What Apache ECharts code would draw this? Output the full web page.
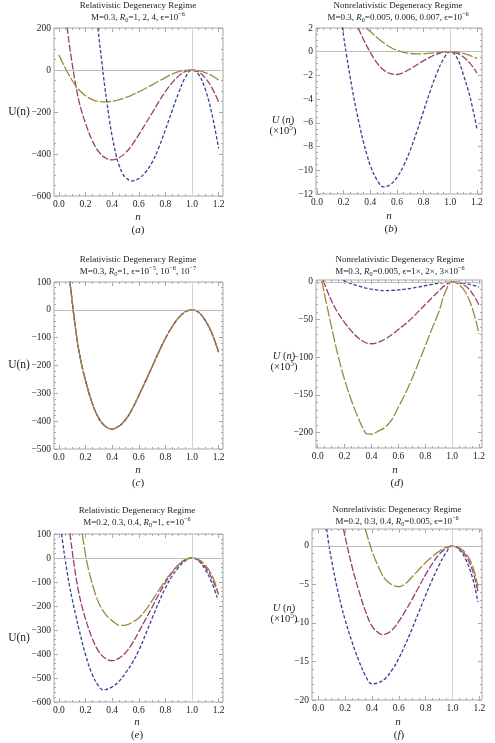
<!DOCTYPE html>
<html>
<head>
<meta charset="utf-8">
<script src="https://cdn.jsdelivr.net/npm/echarts@6/dist/echarts.min.js"></script>
<style>
  html, body { margin: 0; padding: 0; background: #fff; }
  #main { width: 495px; height: 743px; }
</style>
</head>
<body>
<div id="main"></div>
<script>
// ---- data: [n, U(n)] ----
// shared relativistic curve (a magenta, c all three, e magenta)
const relBase = [[0.05, 290], [0.06, 215], [0.07, 162], [0.08, 114], [0.09, 70], [0.1, 29], [0.11, -12], [0.12, -50],
  [0.13, -86], [0.14, -118], [0.15, -147], [0.17, -195], [0.2, -254], [0.25, -335], [0.3, -390], [0.35, -419],
  [0.4, -428], [0.45, -418], [0.5, -395], [0.55, -357], [0.6, -308], [0.65, -257], [0.7, -205], [0.75, -152],
  [0.8, -103], [0.85, -61], [0.9, -28], [0.95, -7], [1.0, 0], [1.05, -9], [1.1, -38], [1.15, -85], [1.2, -152]];
const aBlue = [[0.28, 278], [0.3, 160], [0.32, 50], [0.345, -82], [0.36, -150], [0.38, -240], [0.4, -315], [0.43, -405],
  [0.45, -450], [0.48, -495], [0.5, -512], [0.55, -528], [0.6, -517], [0.65, -487], [0.7, -440], [0.75, -370],
  [0.8, -285], [0.85, -195], [0.9, -108], [0.95, -35], [1.0, 0], [1.05, -22], [1.1, -92], [1.15, -210], [1.2, -373]];
const aYellow = [[0.0, 72], [0.025, 38], [0.05, 6], [0.075, -23], [0.1, -50], [0.125, -74], [0.15, -94], [0.2, -123],
  [0.25, -141], [0.3, -150], [0.35, -152], [0.4, -149], [0.45, -142], [0.5, -132], [0.55, -119], [0.6, -104],
  [0.65, -88], [0.7, -71], [0.75, -53], [0.8, -36], [0.85, -20], [0.9, -8], [0.95, -2], [1.0, 0], [1.05, -3],
  [1.1, -12], [1.15, -27], [1.2, -48]];
const bBlue = [[0.19, 2.1], [0.2, 1.3], [0.22, -0.2], [0.25, -2.2], [0.275, -3.8], [0.3, -5.2], [0.325, -6.5],
  [0.35, -7.7], [0.375, -8.7], [0.4, -9.6], [0.45, -10.8], [0.5, -11.4], [0.55, -11.2], [0.6, -10.6], [0.65, -9.6],
  [0.7, -8.3], [0.75, -6.7], [0.8, -5.0], [0.85, -3.3], [0.9, -1.8], [0.95, -0.6], [1.0, 0], [1.05, -0.5],
  [1.1, -2.0], [1.15, -3.9], [1.2, -6.5]];
const bMagenta = [[0.31, 2.0], [0.33, 1.48], [0.35, 1.0], [0.375, 0.45], [0.4, -0.05], [0.45, -0.95], [0.5, -1.55],
  [0.55, -1.85], [0.6, -1.92], [0.65, -1.75], [0.7, -1.45], [0.75, -1.1], [0.8, -0.75], [0.85, -0.45], [0.9, -0.2],
  [0.95, -0.05], [1.0, 0], [1.05, -0.12], [1.1, -0.45], [1.15, -1.0], [1.2, -1.8]];
const bYellow = [[0.37, 2.0], [0.4, 1.7], [0.45, 1.2], [0.5, 0.75], [0.55, 0.38], [0.6, 0.12], [0.65, -0.05],
  [0.7, -0.15], [0.75, -0.19], [0.8, -0.17], [0.85, -0.12], [0.9, -0.06], [0.95, -0.015], [1.0, 0], [1.05, -0.04],
  [1.1, -0.15], [1.15, -0.33], [1.2, -0.56]];
const dMagenta = [[0.04, 2], [0.06, -7], [0.08, -16], [0.1, -24], [0.125, -33], [0.15, -41], [0.2, -54], [0.25, -65],
  [0.3, -74], [0.35, -80], [0.4, -82], [0.45, -80], [0.5, -76], [0.55, -70], [0.6, -63], [0.65, -56], [0.7, -48],
  [0.75, -39], [0.8, -30], [0.85, -21], [0.9, -12], [0.95, -4], [1.0, 0], [1.05, -1.3], [1.1, -5.5], [1.15, -15],
  [1.2, -31]];
const dYellow = [[0.03, 2], [0.05, -16], [0.075, -37], [0.1, -58], [0.125, -78], [0.15, -97], [0.175, -114],
  [0.2, -130], [0.25, -157], [0.3, -180], [0.35, -199], [0.37, -202], [0.4, -202], [0.45, -198], [0.5, -193],
  [0.55, -183], [0.6, -166], [0.65, -149], [0.7, -129], [0.75, -107], [0.8, -85], [0.85, -62], [0.9, -40],
  [0.95, -13], [1.0, 0], [1.05, -3.5], [1.1, -14], [1.15, -35], [1.2, -69]];
const eBlue = [[0.02, 100], [0.03, 58], [0.045, 0], [0.06, -53], [0.08, -118], [0.1, -172], [0.125, -235],
  [0.15, -295], [0.2, -403], [0.25, -485], [0.3, -535], [0.33, -549], [0.35, -548], [0.4, -537], [0.45, -515],
  [0.5, -480], [0.55, -438], [0.6, -385], [0.65, -320], [0.7, -252], [0.75, -185], [0.8, -125], [0.85, -76],
  [0.9, -38], [0.95, -11], [1.0, 0], [1.05, -12], [1.1, -48], [1.15, -105], [1.19, -165]];
const eYellow = [[0.175, 100], [0.19, 48], [0.2075, -10], [0.23, -65], [0.2575, -121], [0.28, -160], [0.3075, -197],
  [0.35, -235], [0.3825, -253], [0.42, -270], [0.46, -281], [0.5, -280], [0.55, -268], [0.6, -250], [0.65, -218],
  [0.7, -178], [0.75, -135], [0.8, -93], [0.85, -57], [0.9, -27], [0.95, -7], [1.0, 0], [1.05, -7], [1.1, -30],
  [1.15, -72], [1.19, -133]];
const fBlue = [[0.0625, 2.2], [0.08, 0], [0.1, -1.95], [0.125, -4.2], [0.15, -6.2], [0.175, -8.0], [0.2, -9.6],
  [0.25, -12.4], [0.3, -14.8], [0.35, -16.8], [0.4, -17.9], [0.45, -17.75], [0.5, -17.2], [0.55, -16.1],
  [0.6, -14.6], [0.65, -12.75], [0.7, -10.7], [0.75, -8.55], [0.8, -6.4], [0.85, -4.35], [0.9, -2.5], [0.95, -0.95],
  [1.0, 0], [1.05, -0.45], [1.1, -1.8], [1.15, -4.2], [1.19, -7.3]];
const fMagenta = [[0.1875, 2.2], [0.215, 0], [0.25, -2.6], [0.275, -4.2], [0.3, -5.7], [0.35, -8.4], [0.4, -10.4],
  [0.45, -11.3], [0.475, -11.5], [0.5, -11.45], [0.55, -10.9], [0.6, -9.8], [0.65, -8.4], [0.7, -6.9], [0.75, -5.3],
  [0.8, -3.7], [0.85, -2.3], [0.9, -1.1], [0.95, -0.35], [1.0, 0], [1.05, -0.35], [1.1, -1.3], [1.15, -3.2],
  [1.19, -6.0]];
const fYellow = [[0.35, 2.2], [0.37, 1.0], [0.39, -0.1], [0.41, -1.1], [0.43, -2.0], [0.45, -2.8], [0.475, -3.7],
  [0.5, -4.35], [0.55, -5.05], [0.6, -5.3], [0.65, -4.9], [0.7, -4.0], [0.75, -3.05], [0.8, -2.15], [0.85, -1.35],
  [0.9, -0.7], [0.95, -0.2], [1.0, 0], [1.05, -0.25], [1.1, -1.0], [1.15, -2.6], [1.19, -5.3]];

// tick labels
const xTicks = [0, 0.2, 0.4, 0.6, 0.8, 1.0, 1.2];
const yTicksA = [200, 0, -200, -400, -600];
const yTicksB = [2, 0, -2, -4, -6, -8, -10, -12];
const yTicksC = [100, 0, -100, -200, -300, -400, -500];
const yTicksD = [0, -50, -100, -150, -200];
const yTicksE = [100, 0, -100, -200, -300, -400, -500, -600];
const yTicksF = [0, -5, -10, -15, -20];

const titleRel = 'Relativistic Degeneracy Regime';
const titleNonrel = 'Nonrelativistic Degeneracy Regime';

// ---- styles / layout ----
const FONT = "'Liberation Serif', 'DejaVu Serif', serif";
const FRAME = '#a8a8a8';
const lineStyles = {
  blue: { color: '#3d3d99', type: [3.5, 2] },
  magenta: { color: '#993d71', type: [7, 2] },
  yellow: { color: '#998b3d', type: [11, 2] }
};

function steps(a, b, s) {
  const out = [];
  for (let v = a; v <= b + 1e-9; v += s) out.push(+v.toFixed(4));
  return out;
}

const panels = [
  { box: [54, 28, 169, 168], x: [-0.037, 1.233], y: [-600, 200], yTicks: yTicksA, yMinor: [-600, 200, 50],
    curves: [['blue', aBlue], ['magenta', relBase], ['yellow', aYellow]],
    title: [titleRel, 'M=0.3, {i|R}{sub|0}=1, 2, 4, ϵ=10{sup|−6}'], tx: 138, ty: 6,
    rel: true, ylab: [19, 112], nlab: [138, 217], letter: 'a', llab: [138, 230] },
  { box: [316, 28, 166, 166], x: [-0.0075, 1.238], y: [-12, 2], yTicks: yTicksB, yMinor: [-12, 2, 0.5],
    curves: [['blue', bBlue], ['magenta', bMagenta], ['yellow', bYellow]],
    title: [titleNonrel, 'M=0.3, {i|R}{sub|0}=0.005, 0.006, 0.007, ϵ=10{sup|−6}'], tx: 398, ty: 6,
    rel: false, ylab: [283, 120], nlab: [389, 216], letter: 'b', llab: [391, 229] },
  { box: [54, 282, 169, 167], x: [-0.037, 1.233], y: [-500, 100], yTicks: yTicksC, yMinor: [-500, 100, 20],
    curves: [['blue', relBase], ['magenta', relBase], ['yellow', relBase]],
    title: [titleRel, 'M=0.3, {i|R}{sub|0}=1, ϵ=10{sup|−5}, 10{sup|−6}, 10{sup|−7}'], tx: 138, ty: 260,
    rel: true, ylab: [19, 365], nlab: [138, 470], letter: 'c', llab: [138, 483] },
  { box: [316, 280, 166, 168], x: [-0.013, 1.222], y: [-220.4, 2.6], yTicks: yTicksD, yMinor: [-220, 0, 10],
    curves: [['blue', bBlue], ['magenta', dMagenta], ['yellow', dYellow]],
    title: [titleNonrel, 'M=0.3, {i|R}{sub|0}=0.005, ϵ=1×, 2×, 3×10{sup|−6}'], tx: 400, ty: 260,
    rel: false, ylab: [284, 356], nlab: [395, 470], letter: 'd', llab: [397, 483] },
  { box: [54, 534, 169, 168], x: [-0.037, 1.233], y: [-600, 100], yTicks: yTicksE, yMinor: [-600, 100, 20],
    curves: [['blue', eBlue], ['magenta', relBase], ['yellow', eYellow]],
    title: [titleRel, 'M=0.2, 0.3, 0.4, {i|R}{sub|0}=1, ϵ=10{sup|−6}'], tx: 137, ty: 511,
    rel: true, ylab: [19, 638], nlab: [137, 722], letter: 'e', llab: [137, 735] },
  { box: [312, 529, 170, 171], x: [-0.047, 1.22], y: [-20, 2.2], yTicks: yTicksF, yMinor: [-20, 2, 1],
    curves: [['blue', fBlue], ['magenta', fMagenta], ['yellow', fYellow]],
    title: [titleNonrel, 'M=0.2, 0.3, 0.4, {i|R}{sub|0}=0.005, ϵ=10{sup|−6}'], tx: 397, ty: 510,
    rel: false, ylab: [284, 608], nlab: [398, 722], letter: 'f', llab: [399, 735] }
];

const richBase = (size) => ({
  i: { fontStyle: 'italic', fontFamily: FONT, fontSize: size, fill: '#222', color: '#222' },
  sub: { fontFamily: FONT, fontSize: size * 0.7, verticalAlign: 'bottom', lineHeight: 8, fill: '#222', color: '#222' },
  sup: { fontFamily: FONT, fontSize: size * 0.7, verticalAlign: 'top', lineHeight: 8, fill: '#222', color: '#222' }
});

function text(x, y, str, size, extra) {
  return {
    type: 'text', x: x, y: y, silent: true,
    style: Object.assign({
      text: str, fontFamily: FONT, fontSize: size, fill: '#222',
      align: 'center', verticalAlign: 'middle', lineHeight: 12, rich: richBase(size)
    }, extra || {})
  };
}

function fmtY(v) {
  return v < 0 ? '\u2212' + String(-v) : String(v);
}

function makeAxis(dim, gridIndex, position, range, ticks, len, labels) {
  const ax = {
    type: 'value', gridIndex: gridIndex, position: position,
    min: range[0], max: range[1],
    axisLine: { show: false, onZero: false },
    axisTick: { show: true, inside: true, length: len, customValues: ticks, lineStyle: { color: FRAME, width: 1 } },
    axisLabel: { show: false },
    splitLine: { show: false }
  };
  if (labels) {
    ax.axisLabel = {
      show: true, customValues: ticks, margin: 3,
      fontFamily: FONT, fontSize: 9.5, color: '#222',
      formatter: dim === 'x' ? (v) => v.toFixed(1) : fmtY
    };
  }
  return ax;
}

const grids = [], xAxes = [], yAxes = [], series = [], graphics = [];
const xMinor = steps(0, 1.2, 0.05);

panels.forEach((p, k) => {
  grids.push({
    left: p.box[0], top: p.box[1], width: p.box[2], height: p.box[3],
    show: true, borderColor: FRAME, borderWidth: 1, backgroundColor: 'transparent'
  });
  const yMinor = steps(p.yMinor[0], p.yMinor[1], p.yMinor[2]);
  const xi = xAxes.length, yi = yAxes.length;
  xAxes.push(makeAxis('x', k, 'bottom', p.x, xTicks, 4, true));
  xAxes.push(makeAxis('x', k, 'bottom', p.x, xMinor, 2, false));
  xAxes.push(makeAxis('x', k, 'top', p.x, xTicks, 4, false));
  xAxes.push(makeAxis('x', k, 'top', p.x, xMinor, 2, false));
  yAxes.push(makeAxis('y', k, 'left', p.y, p.yTicks, 4, true));
  yAxes.push(makeAxis('y', k, 'left', p.y, yMinor, 2, false));
  yAxes.push(makeAxis('y', k, 'right', p.y, p.yTicks, 4, false));
  yAxes.push(makeAxis('y', k, 'right', p.y, yMinor, 2, false));

  p.curves.forEach(([key, data], j) => {
    const s = {
      type: 'line', xAxisIndex: xi, yAxisIndex: yi, data: data,
      showSymbol: false, smooth: 0.4, clip: true, z: 3 + j,
      lineStyle: { color: lineStyles[key].color, type: lineStyles[key].type, width: 1.3 },
      emphasis: { disabled: true }
    };
    if (j === 0) {
      // zero line and n = 1 guide
      s.markLine = {
        silent: true, symbol: 'none', animation: false, label: { show: false },
        lineStyle: { width: 1, type: 'solid' },
        data: [
          { yAxis: 0, lineStyle: { color: '#bdbdbd' } },
          { xAxis: 1, lineStyle: { color: '#d4d4d4' } }
        ]
      };
    }
    series.push(s);
  });

  // titles and axis labels
  graphics.push(text(p.tx, p.ty, p.title[0], 9));
  graphics.push(text(p.tx, p.ty + 11.5, p.title[1], 9));
  if (p.rel) {
    graphics.push(text(p.ylab[0], p.ylab[1], 'U(n)', 11.5));
  } else {
    graphics.push(text(p.ylab[0], p.ylab[1], '{i|U} ({i|n})', 10.5));
    graphics.push(text(p.ylab[0], p.ylab[1] + 11, '(×10{sup|5})', 10.5));
  }
  graphics.push(text(p.nlab[0], p.nlab[1], '{i|n}', 11));
  graphics.push(text(p.llab[0], p.llab[1], '({i|' + p.letter + '})', 11));
});

const chart = echarts.init(document.getElementById('main'), null, { renderer: 'canvas' });
chart.setOption({
  animation: false,
  backgroundColor: '#fff',
  grid: grids,
  xAxis: xAxes,
  yAxis: yAxes,
  series: series,
  graphic: { elements: graphics }
});
</script>
</body>
</html>
